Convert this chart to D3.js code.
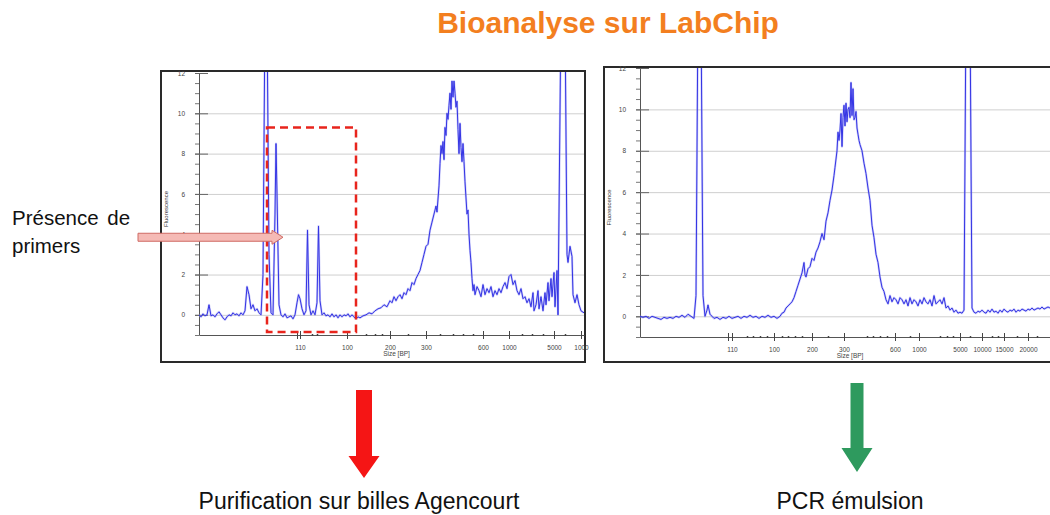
<!DOCTYPE html>
<html>
<head>
<meta charset="utf-8">
<script src="https://cdn.jsdelivr.net/npm/d3@7"></script>
<style>
  body { margin: 0; background: #fff; }
  svg text { font-family: "Liberation Sans", Arial, sans-serif; }
</style>
</head>
<body>
<div id="chart"></div>
<script>
// electropherograms, [migration time (s), fluorescence]
var beforeTrace = [
  [20.0, 0.0], [20.2, -0.1], [20.4, 0.05], [20.6, -0.05], [20.8, 0.0], [21.0, 0.5], [21.2, -0.05],
  [21.4, 0.0], [21.6, -0.1], [21.8, 0.05], [22.0, 0.15], [22.2, 0.0], [22.4, -0.15], [22.6, -0.25],
  [22.8, -0.1], [23.0, 0.0], [23.2, -0.05], [23.4, 0.1], [23.6, 0.0], [23.8, 0.05], [24.0, -0.05],
  [24.2, 0.1], [24.4, 0.0], [24.6, 0.2], [24.8, 1.4], [25.0, 1.0], [25.2, 0.3], [25.4, 0.5],
  [25.6, 0.2], [25.8, 0.3], [26.0, 0.1], [26.2, 0.0], [26.4, 2.0], [26.6, 15], [26.8, 15],
  [27.0, 3.0], [27.2, 0.1], [27.4, 0.0], [27.6, 5.0], [27.7, 8.5], [27.8, 6.0], [28.0, 0.5],
  [28.2, 0.0], [28.4, -0.1], [28.6, 0.05], [28.8, -0.15], [29.0, -0.1], [29.2, -0.05], [29.4, -0.2],
  [29.6, 0.0], [29.8, 0.6], [29.95, 1.0], [30.1, 0.8], [30.3, 0.3], [30.5, 0.0], [30.7, 0.2],
  [30.85, 4.2], [31.0, 0.5], [31.2, 0.0], [31.4, 0.2], [31.6, 0.0], [31.8, 0.6], [31.95, 4.4],
  [32.1, 0.7], [32.3, 0.0], [32.5, 0.1], [32.7, -0.05], [32.9, 0.0], [33.1, -0.1], [33.3, 0.05],
  [33.5, -0.1], [33.7, 0.0], [33.9, -0.15], [34.1, 0.0], [34.3, -0.1], [34.5, 0.0], [34.7, -0.05],
  [34.9, 0.05], [35.1, -0.1], [35.3, 0.0], [35.5, -0.1], [35.7, -0.2], [35.9, -0.1], [36.1, -0.15],
  [36.4, -0.05], [36.7, 0.0], [37.0, 0.1], [37.3, 0.05], [37.6, 0.2], [37.9, 0.3], [38.2, 0.35],
  [38.5, 0.5], [38.8, 0.4], [39.1, 0.7], [39.3, 0.6], [39.5, 0.9], [39.7, 0.7], [39.9, 0.9],
  [40.1, 1.0], [40.3, 0.8], [40.5, 1.1], [40.7, 1.0], [40.9, 1.3], [41.1, 1.2], [41.3, 1.6],
  [41.5, 1.5], [41.7, 1.8], [41.9, 2.0], [42.1, 2.2], [42.3, 2.6], [42.5, 3.0], [42.7, 3.4],
  [42.9, 3.5], [43.1, 4.2], [43.3, 4.6], [43.5, 5.0], [43.7, 5.4], [43.8, 5.1], [44.0, 6.4],
  [44.1, 7.5], [44.2, 8.4], [44.3, 8.0], [44.4, 8.6], [44.5, 7.7], [44.6, 9.3], [44.7, 8.9],
  [44.8, 10.0], [44.9, 9.7], [45.0, 10.4], [45.1, 11.0], [45.2, 10.2], [45.3, 11.6], [45.4, 10.8],
  [45.5, 11.6], [45.6, 11.0], [45.7, 10.3], [45.8, 10.6], [45.9, 9.2], [46.0, 8.0], [46.1, 9.5],
  [46.2, 8.3], [46.3, 7.6], [46.4, 8.5], [46.5, 7.6], [46.6, 6.6], [46.7, 5.8], [46.8, 5.0],
  [46.9, 5.2], [47.0, 4.0], [47.1, 3.2], [47.2, 2.6], [47.3, 1.8], [47.4, 1.2], [47.5, 1.5],
  [47.6, 1.0], [47.8, 1.4], [48.0, 1.2], [48.2, 0.9], [48.4, 1.5], [48.6, 1.0], [48.8, 1.3],
  [49.0, 1.1], [49.2, 1.4], [49.4, 0.9], [49.6, 1.2], [49.8, 1.0], [50.0, 1.3], [50.2, 1.1],
  [50.4, 1.4], [50.6, 1.6], [50.8, 1.3], [51.0, 1.9], [51.2, 2.0], [51.4, 1.5], [51.6, 1.7],
  [51.8, 1.2], [52.0, 1.0], [52.2, 1.3], [52.4, 0.8], [52.6, 0.9], [52.8, 0.6], [53.0, 0.8],
  [53.2, 0.4], [53.4, 1.1], [53.5, 0.2], [53.7, 0.5], [53.9, 1.2], [54.0, 0.3], [54.2, 0.9],
  [54.4, 0.2], [54.6, 1.1], [54.7, 0.5], [54.9, 1.6], [55.0, 0.7], [55.2, 1.8], [55.3, 0.9],
  [55.5, 2.1], [55.6, 0.4], [55.8, 2.2], [55.9, 0.0], [56.2, 15], [56.6, 15], [56.8, 3.0],
  [56.9, 2.6], [57.1, 3.4], [57.3, 2.9], [57.4, 1.0], [57.6, 0.6], [57.8, 1.0], [58.0, 0.5],
  [58.2, 0.2], [58.5, 0.1]
];

var afterTrace = [
  [20.0, 0.0], [20.3, -0.05], [20.6, 0.0], [20.9, -0.1], [21.2, 0.0], [21.5, -0.05], [21.8, -0.1],
  [22.1, -0.15], [22.4, -0.05], [22.7, -0.1], [23.0, -0.05], [23.3, -0.1], [23.6, 0.0], [23.9, -0.05],
  [24.2, 0.05], [24.5, -0.05], [24.8, 0.1], [25.1, 0.0], [25.4, -0.1], [25.6, 1.0], [25.8, 15],
  [26.1, 15], [26.3, 1.0], [26.5, 0.0], [26.7, 0.3], [26.8, 0.55], [27.0, 0.1], [27.2, 0.0],
  [27.4, -0.1], [27.7, -0.05], [28.0, -0.15], [28.3, -0.05], [28.6, -0.1], [28.9, 0.0], [29.2, -0.1],
  [29.5, -0.05], [29.8, 0.0], [30.1, -0.1], [30.4, 0.0], [30.7, -0.05], [31.0, 0.05], [31.3, -0.05],
  [31.6, 0.0], [31.9, -0.1], [32.2, 0.0], [32.5, -0.05], [32.8, 0.05], [33.1, -0.05], [33.4, 0.0],
  [33.7, -0.1], [34.0, 0.0], [34.2, 0.15], [34.4, 0.2], [34.6, 0.4], [34.8, 0.5], [35.0, 0.6],
  [35.2, 0.7], [35.4, 0.9], [35.6, 1.2], [35.8, 1.5], [36.0, 1.8], [36.2, 2.1], [36.4, 2.6],
  [36.5, 2.0], [36.6, 1.9], [36.8, 2.3], [37.0, 2.4], [37.2, 2.8], [37.4, 2.7], [37.6, 3.1],
  [37.8, 3.3], [38.0, 3.6], [38.2, 4.0], [38.4, 3.7], [38.6, 4.6], [38.8, 5.0], [39.0, 5.6],
  [39.2, 6.1], [39.4, 6.8], [39.5, 7.2], [39.7, 8.0], [39.8, 8.9], [39.9, 8.5], [40.0, 9.0],
  [40.1, 9.8], [40.2, 8.2], [40.3, 9.6], [40.4, 10.2], [40.5, 9.2], [40.6, 10.3], [40.7, 9.4],
  [40.8, 10.0], [40.9, 10.1], [41.0, 9.6], [41.1, 11.3], [41.2, 9.7], [41.3, 11.0], [41.4, 9.5],
  [41.5, 9.6], [41.6, 9.9], [41.7, 9.1], [41.8, 8.8], [41.9, 8.5], [42.0, 8.3], [42.2, 8.0],
  [42.4, 7.4], [42.6, 6.9], [42.8, 6.2], [43.0, 5.6], [43.2, 4.4], [43.4, 3.8], [43.6, 3.0],
  [43.8, 2.6], [44.0, 1.9], [44.2, 1.4], [44.4, 1.2], [44.6, 0.8], [44.8, 0.6], [45.0, 1.0],
  [45.2, 0.7], [45.4, 0.9], [45.6, 0.8], [45.8, 0.6], [46.0, 0.9], [46.2, 0.8], [46.4, 0.6],
  [46.6, 0.8], [46.8, 0.5], [47.0, 0.9], [47.2, 0.6], [47.4, 0.8], [47.6, 0.7], [47.8, 0.5],
  [48.0, 0.8], [48.2, 0.6], [48.4, 0.9], [48.6, 0.7], [48.8, 0.6], [49.0, 0.8], [49.2, 0.5],
  [49.4, 1.0], [49.6, 0.6], [49.8, 0.7], [50.0, 0.8], [50.2, 0.6], [50.4, 0.9], [50.6, 0.4],
  [50.8, 0.5], [51.0, 0.3], [51.2, 0.4], [51.4, 0.2], [51.6, 0.3], [51.8, 0.15], [52.0, 0.2],
  [52.2, 0.15], [52.4, 0.3], [52.6, 15], [53.0, 15], [53.2, 0.4], [53.4, 0.2], [53.6, 0.15],
  [53.8, 0.25], [54.0, 0.2], [54.2, 0.3], [54.4, 0.2], [54.6, 0.15], [54.8, 0.3], [55.0, 0.2],
  [55.2, 0.35], [55.4, 0.2], [55.6, 0.25], [55.8, 0.15], [56.0, 0.3], [56.2, 0.2], [56.4, 0.35],
  [56.6, 0.25], [56.8, 0.2], [57.0, 0.3], [57.2, 0.25], [57.4, 0.35], [57.6, 0.2], [57.8, 0.3],
  [58.0, 0.25], [58.2, 0.35], [58.4, 0.3], [58.6, 0.25], [58.8, 0.35], [59.0, 0.3], [59.2, 0.4],
  [59.4, 0.3], [59.6, 0.35], [59.8, 0.4], [60.0, 0.35], [60.2, 0.45], [60.4, 0.35], [60.6, 0.4],
  [60.8, 0.45], [61.0, 0.4]
];

// size ladder on the x axis (time -> label)
var beforeTickTimes = [29.8, 30.1, 34.8, 39.1, 42.7, 48.4, 51.0, 55.5, 58.2];
var beforeTickLabels = ["", "110", "100", "200", "300", "600", "1000", "5000", "1000"];
var beforeMinorTimes = [31.3, 31.8, 36.7, 37.6, 38.3, 40.9, 44.1, 45.4, 46.4, 47.4, 52.3, 53.3, 54.4, 56.6];

var afterTickTimes = [28.8, 29.2, 33.4, 37.2, 40.4, 45.5, 47.9, 52.0, 54.2, 56.4, 58.8];
var afterTickLabels = ["", "110", "100", "200", "300", "600", "1000", "5000", "10000", "15000", "20000"];
var afterMinorTimes = [30.7, 31.3, 32.0, 32.7, 34.2, 34.8, 35.5, 36.2, 38.8, 42.7, 43.3, 44.0, 44.7,
  47.0, 50.0, 50.7, 51.3, 53.0, 55.2, 55.8, 57.7, 59.7];

var yTicks = [0, 2, 4, 6, 8, 10, 12];
var yGrid = [0, 2, 4, 6, 8, 10];

// primer region highlighted in the first run (time, fluorescence)
var primerBox = [26.8, 35.7, -0.85, 9.3];
var primerArrowTip = [28.4, 3.85];

var titleText = "Bioanalyse sur LabChip";
var noteLines = ["Présence de", "primers"];
var stepLabels = ["Purification sur billes Agencourt", "PCR émulsion"];

var width = 1050, height = 515;

var svg = d3.select("#chart")
  .append("svg")
  .attr("width", width)
  .attr("height", height)
  .style("display", "block");

svg.append("rect").attr("width", width).attr("height", height).attr("fill", "#fff");

var panels = [
  {
    id: "before",
    trace: beforeTrace,
    ticks: beforeTickTimes, labels: beforeTickLabels, minor: beforeMinorTimes,
    frame: { x: 161, y: 71, w: 424, h: 291 },
    left: 199, right: 584, top: 73, bottom: 335,
    xDomain: [20, 58.5]
  },
  {
    id: "after",
    trace: afterTrace,
    ticks: afterTickTimes, labels: afterTickLabels, minor: afterMinorTimes,
    frame: { x: 604, y: 67, w: 470, h: 295 },
    left: 640, right: 1050, top: 68, bottom: 337,
    xDomain: [20, 61]
  }
];

function drawPanel(p) {
  var g = svg.append("g").attr("class", "panel-" + p.id);

  var x = d3.scaleLinear().domain(p.xDomain).range([p.left, p.right]);
  var y = d3.scaleLinear().domain([-1, 12]).range([p.bottom, p.top]);
  p.x = x;
  p.y = y;

  // frame
  g.append("rect")
    .attr("x", p.frame.x).attr("y", p.frame.y)
    .attr("width", p.frame.w).attr("height", p.frame.h)
    .attr("fill", "#fff")
    .attr("stroke", "#2a2a2a")
    .attr("stroke-width", 2);

  // horizontal grid
  g.append("g")
    .attr("transform", "translate(" + p.left + ",0)")
    .call(d3.axisLeft(y).tickValues(yGrid).tickSize(-(p.right - p.left)).tickFormat(""))
    .call(function(s) { s.select(".domain").remove(); })
    .selectAll("line")
    .attr("stroke", "#cfcfcf");

  // minor y ticks
  g.append("g")
    .attr("transform", "translate(" + p.left + ",0)")
    .call(d3.axisLeft(y).ticks(26).tickSize(4).tickFormat("").tickSizeOuter(0))
    .call(function(s) { s.select(".domain").remove(); })
    .selectAll("line")
    .attr("stroke", "#777");

  // y axis
  var yAx = g.append("g")
    .attr("transform", "translate(" + p.left + ",0)")
    .call(d3.axisLeft(y).tickValues(yTicks).tickSize(4).tickPadding(10).tickSizeOuter(0));
  yAx.select(".domain").attr("stroke", "#555");
  yAx.selectAll(".tick line").attr("x1", -4).attr("x2", 9).attr("stroke", "#666");
  yAx.selectAll("text").attr("font-size", 6.5).attr("fill", "#444");

  g.append("text")
    .attr("transform", "translate(" + (p.frame.x + 7) + "," + ((p.top + p.bottom) / 2 + 5) + ") rotate(-90)")
    .attr("text-anchor", "middle")
    .attr("font-size", 6)
    .attr("fill", "#333")
    .text("Fluorescence");

  // x axis, ladder sizes
  var xAx = g.append("g")
    .attr("transform", "translate(0," + p.bottom + ")")
    .call(d3.axisBottom(x).tickValues(p.ticks)
      .tickFormat(function(d, i) { return p.labels[i]; })
      .tickSize(4).tickPadding(6).tickSizeOuter(0));
  xAx.select(".domain").attr("stroke", "#555");
  xAx.selectAll(".tick line").attr("y1", -4).attr("y2", 4).attr("stroke", "#444");
  xAx.selectAll("text").attr("font-size", 6.5).attr("fill", "#444");

  g.append("g")
    .attr("transform", "translate(0," + p.bottom + ")")
    .call(d3.axisBottom(x).tickValues(p.minor).tickSize(1).tickFormat("").tickSizeOuter(0))
    .call(function(s) { s.select(".domain").remove(); })
    .selectAll("line")
    .attr("y1", -1).attr("y2", 1)
    .attr("stroke", "#444")
    .attr("stroke-width", 1.5);

  g.append("text")
    .attr("x", (p.left + Math.min(p.right, width)) / 2 + 5)
    .attr("y", p.bottom + 21)
    .attr("text-anchor", "middle")
    .attr("font-size", 6.5)
    .attr("fill", "#444")
    .text("Size [BP]");

  // trace
  var clipId = "clip-" + p.id;
  svg.append("clipPath").attr("id", clipId)
    .append("rect")
    .attr("x", p.left).attr("y", p.frame.y + 1)
    .attr("width", p.right - p.left).attr("height", p.bottom - p.frame.y - 1);

  var line = d3.line()
    .x(function(d) { return x(d[0]); })
    .y(function(d) { return y(d[1]); });

  g.append("path")
    .datum(p.trace)
    .attr("clip-path", "url(#" + clipId + ")")
    .attr("fill", "none")
    .attr("stroke", "#8f8ff5")
    .attr("stroke-width", 2.2)
    .attr("stroke-opacity", 0.45)
    .attr("stroke-linejoin", "round")
    .attr("d", line);

  g.append("path")
    .datum(p.trace)
    .attr("clip-path", "url(#" + clipId + ")")
    .attr("fill", "none")
    .attr("stroke", "#3434e4")
    .attr("stroke-width", 1)
    .attr("stroke-linejoin", "round")
    .attr("d", line);
}

panels.forEach(drawPanel);

// dashed box round the primer peaks
var pb = panels[0];
svg.append("rect")
  .attr("x", pb.x(primerBox[0]))
  .attr("y", pb.y(primerBox[3]))
  .attr("width", pb.x(primerBox[1]) - pb.x(primerBox[0]))
  .attr("height", pb.y(primerBox[2]) - pb.y(primerBox[3]))
  .attr("fill", "none")
  .attr("stroke", "#e8241c")
  .attr("stroke-width", 2.5)
  .attr("stroke-dasharray", "8,5");

// pink arrow pointing at the primers
var tipX = pb.x(primerArrowTip[0]), tipY = pb.y(primerArrowTip[1]);
var tailX = 138, headLen = 11, shaftH = 4, headH = 7;
svg.append("path")
  .attr("d", d3.line()([
    [tailX, tipY - shaftH], [tipX - headLen, tipY - shaftH], [tipX - headLen, tipY - headH],
    [tipX, tipY], [tipX - headLen, tipY + headH], [tipX - headLen, tipY + shaftH],
    [tailX, tipY + shaftH]
  ]) + "Z")
  .attr("fill", "#f5bab5")
  .attr("stroke", "#cf6b64")
  .attr("stroke-width", 1);

svg.append("text")
  .attr("x", 12)
  .attr("y", 225)
  .attr("font-family", "Lato, sans-serif")
  .attr("font-size", 20.5)
  .attr("word-spacing", 3)
  .attr("fill", "#111")
  .text(noteLines[0]);

svg.append("text")
  .attr("x", 12)
  .attr("y", 253)
  .attr("font-family", "Lato, sans-serif")
  .attr("font-size", 20.5)
  .attr("fill", "#111")
  .text(noteLines[1]);

// title
svg.append("text")
  .attr("x", 608)
  .attr("y", 33)
  .attr("text-anchor", "middle")
  .attr("font-size", 30)
  .attr("font-weight", "bold")
  .attr("fill", "#f37f1f")
  .text(titleText);

// down arrows with the next step
var steps = [
  { label: stepLabels[0], cx: 364, top: 390, shaftW: 16, headW: 31, headStart: 456, tip: 478, color: "#f51515", textX: 359 },
  { label: stepLabels[1], cx: 857, top: 383, shaftW: 13, headW: 31, headStart: 448, tip: 472, color: "#2e9a5e", textX: 850 }
];

steps.forEach(function(s) {
  svg.append("path")
    .attr("d", d3.line()([
      [s.cx - s.shaftW / 2, s.top], [s.cx + s.shaftW / 2, s.top], [s.cx + s.shaftW / 2, s.headStart],
      [s.cx + s.headW / 2, s.headStart], [s.cx, s.tip], [s.cx - s.headW / 2, s.headStart],
      [s.cx - s.shaftW / 2, s.headStart]
    ]) + "Z")
    .attr("fill", s.color);

  svg.append("text")
    .attr("x", s.textX)
    .attr("y", 509)
    .attr("text-anchor", "middle")
    .attr("font-size", 23)
    .attr("fill", "#111")
    .text(s.label);
});
</script>
</body>
</html>
